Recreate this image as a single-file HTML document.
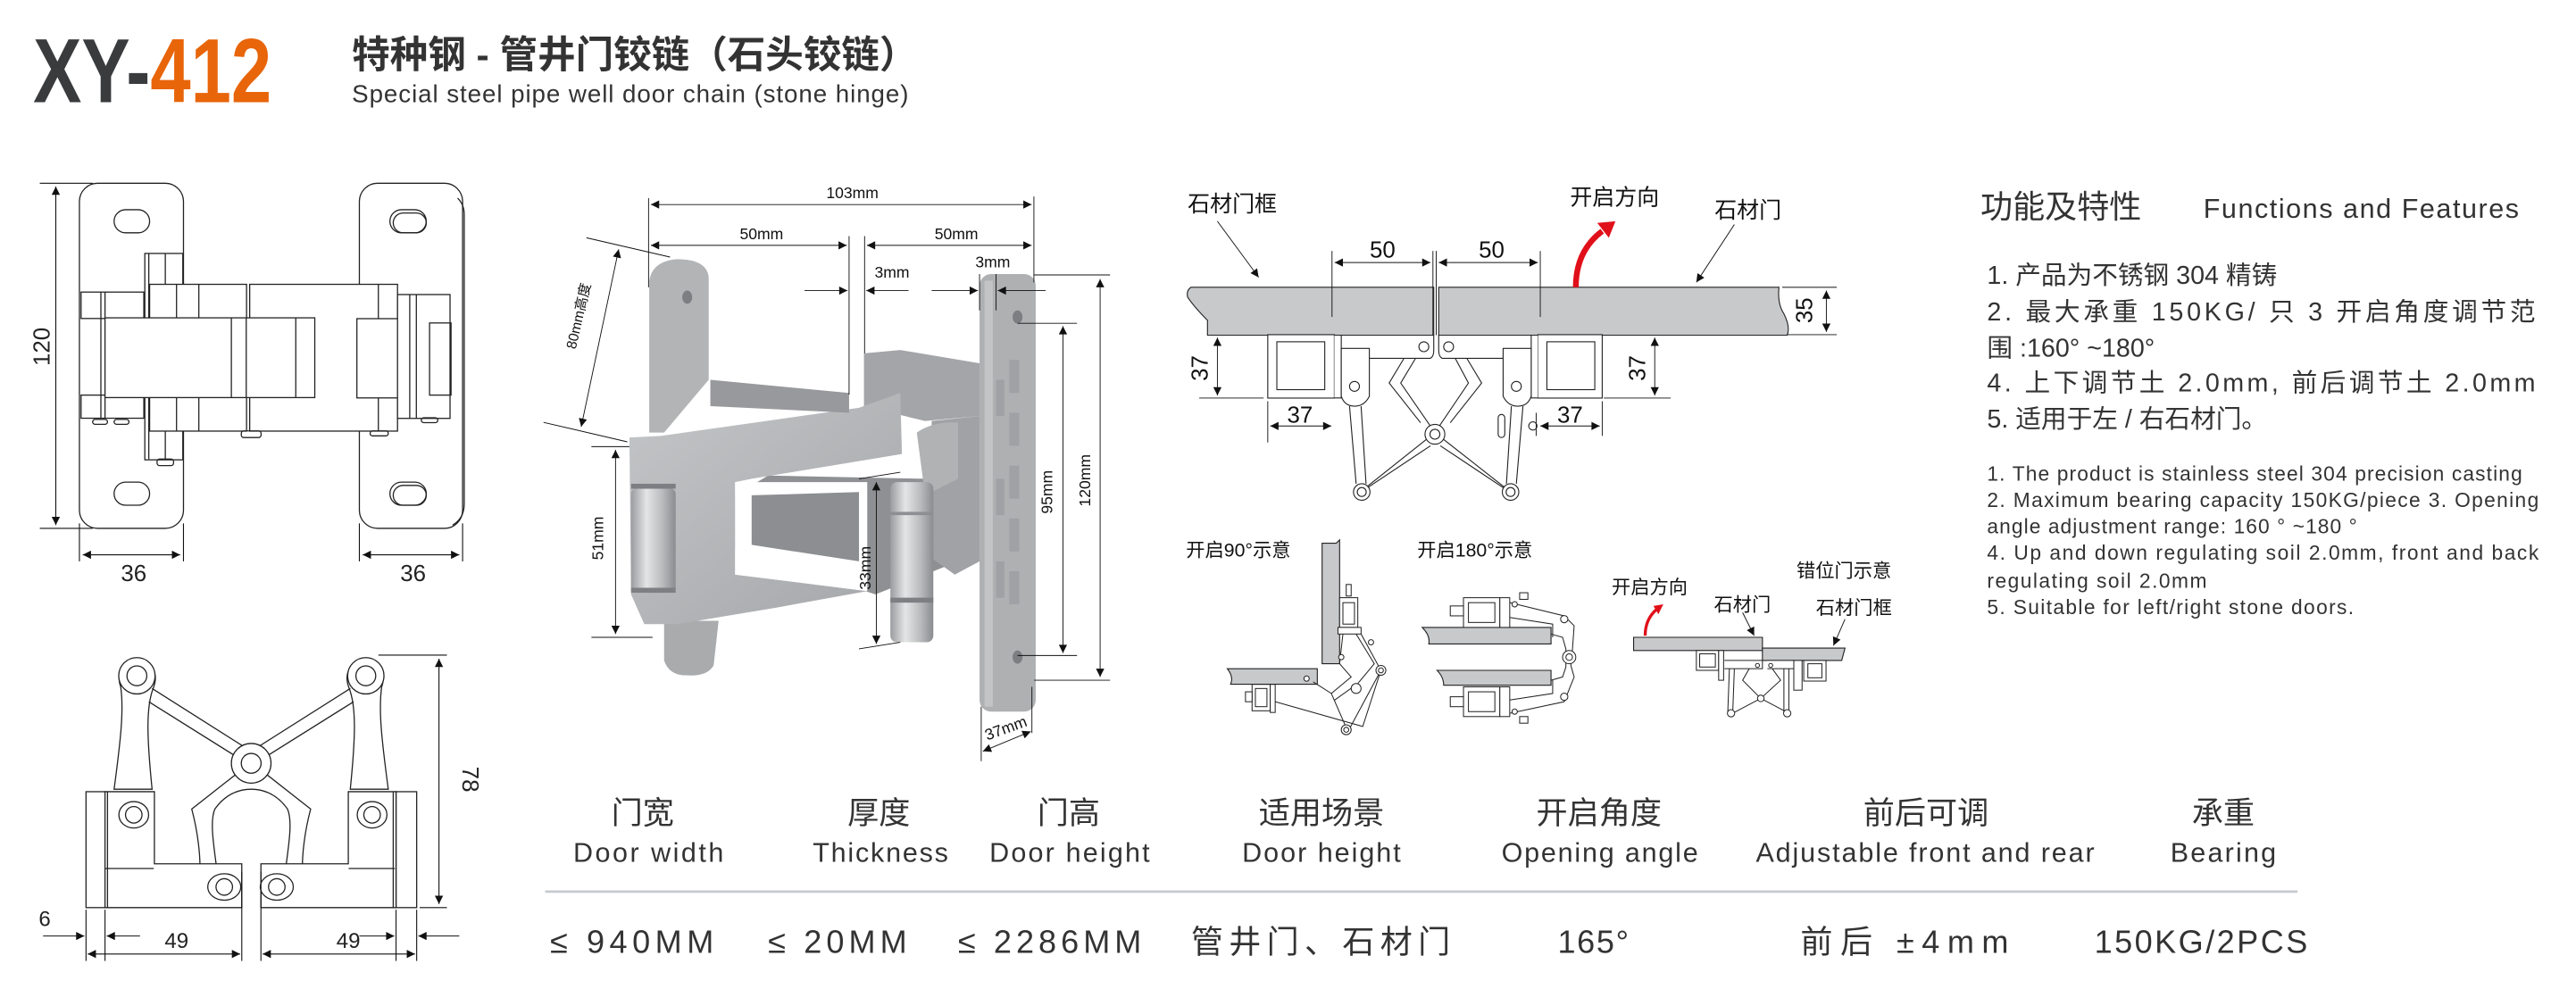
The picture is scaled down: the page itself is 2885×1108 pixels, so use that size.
<!DOCTYPE html>
<html><head><meta charset="utf-8">
<style>
html,body{margin:0;padding:0;background:#fff;}
svg{display:block;}
.cn{font-family:"Liberation Sans","Noto Sans CJK SC",sans-serif;}
.en{font-family:"Liberation Sans","Noto Sans CJK SC",sans-serif;}
</style></head>
<body>
<svg width="2885" height="1108" viewBox="0 0 1559.5 599" xmlns="http://www.w3.org/2000/svg">
<defs>
<marker id="a" viewBox="0 0 10 10" refX="10" refY="5" markerWidth="7" markerHeight="5" orient="auto-start-reverse" markerUnits="userSpaceOnUse"><path d="M0,0L10,5L0,10z" fill="#111"/></marker>
<linearGradient id="cyl" x1="0" x2="1"><stop offset="0" stop-color="#9a9c9f"/><stop offset="0.35" stop-color="#e4e5e6"/><stop offset="0.7" stop-color="#b9bbbd"/><stop offset="1" stop-color="#8a8c8f"/></linearGradient>
<linearGradient id="met" x1="0" y1="0" x2="1" y2="1"><stop offset="0" stop-color="#c3c5c7"/><stop offset="1" stop-color="#a4a6a9"/></linearGradient>
</defs>

<!-- Header -->
<text x="20" y="62" font-family="Liberation Sans,sans-serif" font-weight="bold" font-size="55" fill="#3a3b3d" transform="translate(20 0) scale(0.8 1) translate(-20 0)">XY-<tspan fill="#e8650a">412</tspan></text>
<text x="213" y="41" class="cn" font-weight="bold" font-size="23" fill="#333">特种钢 - 管井门铰链（石头铰链）</text>
<text x="213" y="62" class="en" font-size="15" fill="#333" textLength="337">Special steel pipe well door chain (stone hinge)</text>

<!-- ===== Top-left plan drawing ===== -->
<g fill="none" stroke="#222" stroke-width="0.7">
  <rect x="48" y="111" width="63" height="209" rx="11"/>
  <rect x="69" y="127" width="21.5" height="14" rx="7"/>
  <rect x="69" y="292" width="21.5" height="14" rx="7"/>
  <rect x="217.5" y="111" width="62.5" height="209" rx="11"/>
  <path d="M277 120 Q281 124 281 130 L281 305 Q281 314 274 318"/>
  <rect x="236" y="127" width="22" height="14" rx="7"/>
  <rect x="238" y="129" width="20" height="12" rx="6"/>
  <rect x="236" y="292" width="22" height="14" rx="7"/>
  <rect x="238" y="294" width="20" height="12" rx="6"/>
  <rect x="87.6" y="153.5" width="23" height="125" fill="#fff"/>
  <line x1="90" y1="153.5" x2="90" y2="278"/>
  <line x1="100" y1="153.5" x2="100" y2="278"/>
  <rect x="49" y="176.9" width="38" height="16" fill="#fff"/>
  <rect x="49" y="239.3" width="38" height="14" fill="#fff"/>
  <line x1="61" y1="176.9" x2="61" y2="253"/>
  <line x1="63.5" y1="176.9" x2="63.5" y2="253"/>
  <rect x="90.5" y="172.2" width="58.7" height="88.9" fill="#fff"/>
  <rect x="151.1" y="172.2" width="89.5" height="88.9" fill="#fff"/>
  <line x1="106.8" y1="172.2" x2="106.8" y2="261"/>
  <line x1="120.3" y1="172.2" x2="120.3" y2="261"/>
  <line x1="229" y1="172.2" x2="229" y2="261"/>
  <rect x="63.5" y="192.5" width="127" height="48.3" fill="#fff"/>
  <line x1="140" y1="192.5" x2="140" y2="240.8"/>
  <line x1="149" y1="192.5" x2="149" y2="240.8"/>
  <line x1="179" y1="192.5" x2="179" y2="240.8"/>
  <rect x="216" y="193" width="25" height="48" fill="#fff"/>
  <rect x="240.6" y="178.4" width="31.8" height="75" fill="#fff"/>
  <line x1="248" y1="178.4" x2="248" y2="253.4"/>
  <line x1="252" y1="178.4" x2="252" y2="253.4"/>
  <rect x="260" y="195.6" width="13" height="43.7"/>
  <rect x="56" y="254" width="9" height="3" rx="1.5"/>
  <rect x="69" y="254" width="9" height="3" rx="1.5"/>
  <rect x="95" y="278" width="10" height="4" rx="1.5"/>
  <rect x="146" y="261" width="12" height="4" rx="1.5"/>
  <rect x="224" y="261" width="11" height="3" rx="1.5"/>
  <rect x="255" y="253" width="10" height="3" rx="1.5"/>
</g>
<g stroke="#111" stroke-width="0.6" fill="none">
  <line x1="24" y1="111" x2="56" y2="111"/><line x1="24" y1="320" x2="56" y2="320"/>
  <line x1="33.7" y1="113" x2="33.7" y2="318" marker-start="url(#a)" marker-end="url(#a)"/>
  <line x1="48" y1="317" x2="48" y2="340"/><line x1="111" y1="317" x2="111" y2="340"/>
  <line x1="50" y1="336" x2="109" y2="336" marker-start="url(#a)" marker-end="url(#a)"/>
  <line x1="217.5" y1="317" x2="217.5" y2="340"/><line x1="280" y1="317" x2="280" y2="340"/>
  <line x1="219.5" y1="336" x2="278" y2="336" marker-start="url(#a)" marker-end="url(#a)"/>
</g>
<text x="30" y="210" class="en" font-size="14" fill="#222" text-anchor="middle" transform="rotate(-90 30 210)">120</text>
<text x="80.9" y="352" class="en" font-size="14" fill="#222" text-anchor="middle">36</text>
<text x="250" y="352" class="en" font-size="14" fill="#222" text-anchor="middle">36</text>

<!-- ===== Bottom-left linkage ===== -->
<g fill="#fff" stroke="#222" stroke-width="0.7">
  <path d="M83 401 C92 400 96 408 93 416 C88 428 89 448 92 478 L69 478 C73 448 75 430 73 416 C70 408 75 402 83 401Z"/>
  <path d="M221 401 C212 400 208 408 211 416 C216 428 215 448 212 478 L235 478 C231 448 229 430 231 416 C234 408 229 402 221 401Z"/>
  <path d="M92 417 L152 455 L212 417" fill="none"/>
  <path d="M90 425 L149 462 M214 425 L155 462" fill="none"/>
  <path d="M116 490 C120 505 121 518 121 525 L131 525 C129 510 127 497 130 490 C137 480 146 478 152 478 C158 478 167 480 174 490 C177 497 175 510 173 525 L183 525 C183 518 184 505 188 490 L160 468 L144 468Z"/>
  <rect x="52" y="479.5" width="11.5" height="70.2"/>
  <path d="M63.5 479.5 L93.4 479.5 L93.4 523.2 L146.3 523.2 L146.3 549.7 L63.5 549.7Z"/>
  <line x1="65" y1="479.5" x2="65" y2="549.7"/>
  <line x1="63.5" y1="526" x2="93" y2="526"/>
  <rect x="239.7" y="479.5" width="12.5" height="70.2"/>
  <path d="M239.7 479.5 L210.8 479.5 L210.8 523.2 L157.9 523.2 L157.9 549.7 L239.7 549.7Z"/>
  <line x1="238" y1="479.5" x2="238" y2="549.7"/>
  <line x1="211" y1="526" x2="239" y2="526"/>
  <circle cx="82.8" cy="409.3" r="11"/><circle cx="82.8" cy="409.3" r="6"/>
  <circle cx="221.4" cy="409.3" r="11"/><circle cx="221.4" cy="409.3" r="6"/>
  <circle cx="152" cy="462.3" r="12"/><circle cx="152" cy="462.3" r="6"/>
  <ellipse cx="80.9" cy="493.5" rx="9" ry="8"/><circle cx="80.9" cy="493.5" r="5"/>
  <ellipse cx="225.2" cy="493.5" rx="9" ry="8"/><circle cx="225.2" cy="493.5" r="5"/>
  <ellipse cx="135.7" cy="537.2" rx="10" ry="8"/><circle cx="135.7" cy="537.2" r="5"/>
  <ellipse cx="167.5" cy="537.2" rx="10" ry="8"/><circle cx="167.5" cy="537.2" r="5"/>
</g>
<g stroke="#111" stroke-width="0.6" fill="none">
  <line x1="229" y1="396.8" x2="270.5" y2="396.8"/><line x1="254" y1="549.7" x2="270.5" y2="549.7"/>
  <line x1="265.7" y1="399" x2="265.7" y2="547.5" marker-start="url(#a)" marker-end="url(#a)"/>
  <line x1="52" y1="551" x2="52" y2="582"/><line x1="63.5" y1="551" x2="63.5" y2="582"/>
  <line x1="146.3" y1="528" x2="146.3" y2="582"/><line x1="157.9" y1="528" x2="157.9" y2="582"/>
  <line x1="239.7" y1="551" x2="239.7" y2="582"/><line x1="252.2" y1="551" x2="252.2" y2="582"/>
  <line x1="26" y1="566.9" x2="51" y2="566.9" marker-end="url(#a)"/>
  <line x1="84.7" y1="566.9" x2="64.5" y2="566.9" marker-end="url(#a)"/>
  <line x1="217.5" y1="566.9" x2="238.7" y2="566.9" marker-end="url(#a)"/>
  <line x1="278" y1="566.9" x2="253.2" y2="566.9" marker-end="url(#a)"/>
  <line x1="53" y1="577.8" x2="145.3" y2="577.8" marker-start="url(#a)" marker-end="url(#a)"/>
  <line x1="158.9" y1="577.8" x2="251.2" y2="577.8" marker-start="url(#a)" marker-end="url(#a)"/>
</g>
<text x="280" y="472" class="en" font-size="14" fill="#222" text-anchor="middle" transform="rotate(90 280 472)">78</text>
<text x="27" y="561" class="en" font-size="13" fill="#222" text-anchor="middle">6</text>
<text x="106.8" y="574" class="en" font-size="13" fill="#222" text-anchor="middle">49</text>
<text x="210.8" y="574" class="en" font-size="13" fill="#222" text-anchor="middle">49</text>

<!-- ===== Hinge photo ===== -->
<g stroke="none">
  <path d="M393 170 Q395 158 410 157 Q428 157 429 168 L429 230 L402 262 L393 262Z" fill="#b2b4b6"/>
  <path d="M402 376 L435 376 L432 403 Q428 410 415 409 Q405 409 402 400Z" fill="#a9abad"/>
  <path d="M523 214 L545 212 L593 220 L593 252 L560 255 L523 246Z" fill="#a3a5a8"/>
  <rect x="593" y="166" width="34" height="265" rx="7" fill="#aeb0b2"/>
  <rect x="596" y="170" width="5" height="258" fill="#c2c4c6"/>
  <g fill="#9fa1a4"><rect x="611" y="218" width="6" height="20"/><rect x="611" y="250" width="6" height="20"/><rect x="611" y="282" width="6" height="20"/><rect x="611" y="314" width="6" height="20"/><rect x="611" y="346" width="6" height="20"/><rect x="603" y="230" width="5" height="22"/><rect x="603" y="290" width="5" height="22"/><rect x="603" y="340" width="5" height="22"/></g>
  <ellipse cx="616" cy="192" rx="3" ry="4" fill="#7c7e81"/><ellipse cx="616" cy="398" rx="3" ry="4" fill="#7c7e81"/>
  <path d="M465 288 L560 290 L580 300 L580 340 L530 360 L445 333 L445 300Z" fill="#8e9093"/>
  <path d="M564 255 L593 252 L593 340 L578 348 L564 338Z" fill="#a0a2a5"/>
  <path d="M555 262 Q565 255 580 256 L580 290 L560 300Z" fill="#b0b2b4"/>
  <path d="M381 265 L400 264 L520 247 L545 238 L546 275 L455 290 L445 292 L445 348 L525 358 L470 368 L410 378 L390 378 L382 360Z" fill="url(#met)"/>
  <path d="M430 230 L514 238 L514 250 L430 246Z" fill="#98999c"/>
  <path d="M445 292 L525 292 L525 358 L445 348Z" fill="#fff"/>
  <path d="M455 300 L520 298 L520 340 L455 330Z" fill="#8c8e91"/>
  <rect x="382" y="296" width="27" height="63" rx="3" fill="url(#cyl)"/>
  <rect x="382" y="293" width="27" height="3" fill="#7d7f82"/><rect x="382" y="356" width="27" height="3" fill="#7d7f82"/>
  <rect x="539" y="292" width="26" height="97" rx="4" fill="url(#cyl)"/>
  <rect x="539" y="362" width="26" height="3" fill="#7d7f82"/><rect x="539" y="310" width="26" height="2" fill="#8d8f92"/>
  <ellipse cx="416" cy="180" rx="3" ry="4" fill="#7c7e81"/>
</g>
<g stroke="#111" stroke-width="0.5" fill="none">
  <line x1="392.6" y1="120" x2="392.6" y2="174"/><line x1="625.9" y1="119" x2="625.9" y2="171"/>
  <line x1="394" y1="123.9" x2="624.5" y2="123.9" marker-start="url(#a)" marker-end="url(#a)"/>
  <line x1="514" y1="143" x2="514" y2="239"/><line x1="523.4" y1="143" x2="523.4" y2="214"/>
  <line x1="394" y1="148.6" x2="512.6" y2="148.6" marker-start="url(#a)" marker-end="url(#a)"/>
  <line x1="524.8" y1="148.6" x2="624.5" y2="148.6" marker-start="url(#a)" marker-end="url(#a)"/>
  <line x1="487" y1="176" x2="513" y2="176" marker-end="url(#a)"/>
  <line x1="550" y1="176" x2="524.4" y2="176" marker-end="url(#a)"/>
  <line x1="564" y1="176" x2="592" y2="176" marker-end="url(#a)"/>
  <line x1="633" y1="176" x2="604" y2="176" marker-end="url(#a)"/>
  <line x1="593" y1="166" x2="593" y2="188"/><line x1="603" y1="166" x2="603" y2="188"/>
  <line x1="626" y1="166.5" x2="672" y2="166.5"/><line x1="626" y1="412" x2="672" y2="412"/>
  <line x1="666" y1="169" x2="666" y2="410" marker-start="url(#a)" marker-end="url(#a)"/>
  <line x1="616" y1="195.8" x2="652" y2="195.8"/><line x1="616" y1="397" x2="652" y2="397"/>
  <line x1="643.5" y1="197.5" x2="643.5" y2="395.5" marker-start="url(#a)" marker-end="url(#a)"/>
  <line x1="358" y1="270.5" x2="381" y2="270.5"/><line x1="358" y1="386" x2="395" y2="386"/>
  <line x1="372.6" y1="272.5" x2="372.6" y2="384" marker-start="url(#a)" marker-end="url(#a)"/>
  <line x1="520" y1="290" x2="545" y2="286"/><line x1="520" y1="393" x2="545" y2="389"/>
  <line x1="530.5" y1="292" x2="530.5" y2="390" marker-start="url(#a)" marker-end="url(#a)"/>
  <line x1="355" y1="144" x2="405.6" y2="155.7"/><line x1="329" y1="255.8" x2="379.7" y2="267.6"/>
  <line x1="374.5" y1="151" x2="351.8" y2="258.5" marker-start="url(#a)" marker-end="url(#a)"/>
  <line x1="594" y1="428" x2="594" y2="461"/><line x1="624.7" y1="416" x2="624.7" y2="444"/>
  <line x1="595" y1="455" x2="624" y2="443" marker-start="url(#a)" marker-end="url(#a)"/>
</g>
<g class="en" font-size="9.5" fill="#111">
  <text x="516" y="120" text-anchor="middle">103mm</text>
  <text x="461" y="145" text-anchor="middle">50mm</text>
  <text x="579" y="145" text-anchor="middle">50mm</text>
  <text x="540" y="168" text-anchor="middle">3mm</text>
  <text x="601" y="162" text-anchor="middle">3mm</text>
  <text x="660" y="291" text-anchor="middle" transform="rotate(-90 660 291)">120mm</text>
  <text x="637" y="298" text-anchor="middle" transform="rotate(-90 637 298)">95mm</text>
  <text x="365" y="326" text-anchor="middle" transform="rotate(-90 365 326)">51mm</text>
  <text x="527" y="344" text-anchor="middle" transform="rotate(-90 527 344)">33mm</text>
  <text x="610" y="444" text-anchor="middle" transform="rotate(-20 610 444)">37mm</text>
  <text x="353" y="192" text-anchor="middle" class="cn" font-size="8.5" transform="rotate(-77 353 192)">80mm高度</text>
</g>

<!-- ===== Top-right section drawing ===== -->
<path d="M721 174 L868 174 L868 203 L731 203 L731 194 Q723 186 719 180 Q718 176 721 174Z" fill="#c8c9cb" stroke="#222" stroke-width="0.6"/>
<path d="M871 174 L1077 174 Q1076 184 1080 190 Q1084 198 1082 203 L871 203Z" fill="#c8c9cb" stroke="#222" stroke-width="0.6"/>
<g fill="#fff" stroke="#222" stroke-width="0.6">
  <rect x="767.5" y="202.7" width="40.3" height="38.4"/><rect x="773" y="207" width="29" height="29"/>
  <rect x="931" y="202.7" width="39" height="38.4"/><rect x="936.5" y="207" width="29" height="29"/>
  <path d="M807.8 203 L812 203 L812 241 L807.8 241"/><path d="M931 203 L927 203 L927 241 L931 241"/>
  <path d="M812 211 L829 211 L829 240 Q826 246 820 246 Q814 246 812 240Z"/>
  <path d="M927 211 L910 211 L910 240 Q913 246 919 246 Q925 246 927 240Z"/>
  <path d="M829 217 L866 217 Q868 216 868 212 L868 203 M910 217 L873 217 Q871 216 871 212 L871 203" fill="none"/>
  <circle cx="862" cy="210" r="3"/><circle cx="877" cy="210" r="3"/>
  <circle cx="820" cy="234" r="3"/><circle cx="918" cy="234" r="3"/>
  <path d="M817 246 L821 293 M824 246 L827 293 M922 246 L918 293 M915 246 L912 293" fill="none"/>
  <path d="M850 217 L841 232 L860 256 M888 217 L897 232 L878 256 M857 217 L848 232 L868.7 262 L889 232 L881 217" fill="none"/>
  <path d="M868.7 262 L826 296 M868.7 262 L912 296 M866 270 L824 298 M872 270 L914 298" fill="none"/>
  <circle cx="868.7" cy="263" r="6"/><circle cx="868.7" cy="263" r="3"/>
  <circle cx="824.4" cy="298" r="5"/><circle cx="824.4" cy="298" r="2.7"/>
  <circle cx="914.5" cy="298" r="5"/><circle cx="914.5" cy="298" r="2.7"/>
  <rect x="907" y="251" width="4" height="14" rx="2"/><circle cx="928" cy="258" r="2.5"/>
</g>
<g stroke="#111" stroke-width="0.5" fill="none">
  <line x1="806.4" y1="152" x2="806.4" y2="192"/><line x1="932.5" y1="152" x2="932.5" y2="192"/>
  <line x1="867.5" y1="152" x2="867.5" y2="203"/><line x1="869.5" y1="152" x2="869.5" y2="203"/>
  <line x1="808" y1="159" x2="866" y2="159" marker-start="url(#a)" marker-end="url(#a)"/>
  <line x1="871" y1="159" x2="931" y2="159" marker-start="url(#a)" marker-end="url(#a)"/>
  <line x1="1079" y1="174" x2="1112" y2="174"/><line x1="1082" y1="202.7" x2="1112" y2="202.7"/>
  <line x1="1105.7" y1="176" x2="1105.7" y2="201" marker-start="url(#a)" marker-end="url(#a)"/>
  <line x1="726" y1="241.1" x2="765" y2="241.1"/><line x1="971" y1="241.1" x2="1011.5" y2="241.1"/>
  <line x1="737" y1="204.5" x2="737" y2="239.5" marker-start="url(#a)" marker-end="url(#a)"/>
  <line x1="1001.8" y1="204.5" x2="1001.8" y2="239.5" marker-start="url(#a)" marker-end="url(#a)"/>
  <line x1="767.5" y1="243" x2="767.5" y2="268"/><line x1="970" y1="243" x2="970" y2="264"/><line x1="930" y1="250" x2="930" y2="264"/>
  <line x1="769" y1="258" x2="806" y2="258" marker-start="url(#a)" marker-end="url(#a)"/>
  <line x1="932.5" y1="258" x2="968.5" y2="258" marker-start="url(#a)" marker-end="url(#a)"/>
  <line x1="737" y1="134" x2="762" y2="168" marker-end="url(#a)"/>
  <line x1="1050" y1="136" x2="1027" y2="171" marker-end="url(#a)"/>
</g>
<path d="M954 174 Q954 152 970 140" stroke="#e0101a" stroke-width="3.5" fill="none"/>
<path d="M967 135 L978 134 L974 144Z" fill="#e0101a"/>
<g class="cn" font-size="13.5" fill="#111">
  <text x="719" y="128">石材门框</text>
  <text x="950.5" y="124">开启方向</text>
  <text x="1038" y="132">石材门</text>
</g>
<g class="en" font-size="14" fill="#111">
  <text x="837" y="156" text-anchor="middle">50</text>
  <text x="903" y="156" text-anchor="middle">50</text>
  <text x="1097" y="188" text-anchor="middle" transform="rotate(-90 1097 188)">35</text>
  <text x="731" y="223" text-anchor="middle" transform="rotate(-90 731 223)">37</text>
  <text x="996" y="223" text-anchor="middle" transform="rotate(-90 996 223)">37</text>
  <text x="787" y="256" text-anchor="middle">37</text>
  <text x="950.5" y="256" text-anchor="middle">37</text>
</g>

<!-- ===== Bottom-middle small diagrams ===== -->
<g fill="#c8c9cb" stroke="#222" stroke-width="0.6">
  <path d="M800.4 329 L809 329 Q811 327 811 327 L811 402 L800.4 402Z"/>
  <path d="M743 405 L797.5 405 L797.5 414.4 L745 414.4 Q747 410 743 405Z"/>
  <path d="M861 380 L939 380 L939 390 L865 390 Q866 385 861 380Z"/>
  <path d="M870 406 L939 406 L939 415 L874 415 Q874 410 870 406Z"/>
  <path d="M989 386 L1067 386 L1067 394 L989 394Z"/>
  <path d="M1067 392.5 L1117 392.5 L1115 400 L1067 400Z"/>
</g>
<g fill="#fff" stroke="#222" stroke-width="0.55">
  <rect x="811" y="362" width="11" height="18"/><rect x="813" y="365" width="7" height="13"/>
  <rect x="815" y="354" width="3" height="7"/><rect x="810" y="380" width="14" height="4"/>
  <rect x="758" y="414.5" width="11" height="16"/><rect x="760" y="417" width="7" height="11"/>
  <rect x="754" y="419" width="4" height="6"/><rect x="769" y="414.5" width="3" height="17"/>
  <path d="M813 384 L811 402 L818 410 L806 420 L795 413 M821 384 L832 402 L822 414 L808 424 M824 384 L836 406 L825 440 L772 425 M836 406 L815 445 M806 420 L816 443" fill="none"/>
  <circle cx="836" cy="406" r="3"/><circle cx="836" cy="406" r="1.5"/>
  <circle cx="821" cy="417" r="3"/><circle cx="815" cy="442" r="3"/><circle cx="815" cy="442" r="1.5"/>
  <circle cx="812" cy="398" r="1.6"/><circle cx="791" cy="411" r="1.6"/><circle cx="830" cy="389" r="1.6"/>
  <rect x="886" y="362" width="22" height="18"/><rect x="889" y="365" width="16" height="12"/>
  <rect x="878" y="367" width="8" height="6"/><rect x="908" y="362" width="6" height="18"/>
  <rect x="886" y="416" width="22" height="18"/><rect x="889" y="419" width="16" height="12"/>
  <rect x="878" y="422" width="8" height="6"/><rect x="908" y="416" width="6" height="18"/>
  <path d="M914 365 L947 373 L953 379 L952 393 L951 403 L953 410 L947 425 L914 432 M914 374 L940 378 L940 386 M914 424 L940 420 L940 412 M939 384 L946 386 L948 393 L948 404 L946 410 L939 412" fill="none"/>
  <circle cx="950" cy="398" r="4"/><circle cx="950" cy="398" r="2"/>
  <circle cx="947" cy="375" r="2.2"/><circle cx="947" cy="422" r="2.2"/>
  <circle cx="917" cy="366" r="1.6"/><circle cx="917" cy="431" r="1.6"/>
  <rect x="920" y="359" width="5" height="4"/><rect x="920" y="434" width="5" height="4"/>
  <rect x="1027" y="394" width="13.5" height="12"/><rect x="1029" y="396" width="9.5" height="8"/>
  <rect x="1092" y="400" width="13.5" height="12.5"/><rect x="1094.5" y="402" width="8.5" height="8.5"/>
  <rect x="1040.5" y="394" width="3" height="18"/><rect x="1086" y="400" width="5" height="18"/>
  <path d="M1044 400 L1067 400 L1067 405 L1044 405 M1070 400 L1086 400 L1086 405 L1070 405" />
  <path d="M1047 405 L1046 432 M1050 405 L1049 432 M1083 405 L1083 432 M1080 405 L1080 432 M1059 405 L1055 412 L1066 423 L1078 412 L1073 405 M1066 423 L1049 432 M1066 423 L1083 432" fill="none"/>
  <circle cx="1048" cy="432" r="2.2"/><circle cx="1082" cy="432" r="2.2"/><circle cx="1066" cy="423" r="2"/>
  <circle cx="1064" cy="403" r="1.2"/><circle cx="1072" cy="403" r="1.2"/>
</g>
<g stroke="#111" stroke-width="0.5" fill="none">
  <line x1="1055" y1="371" x2="1062" y2="385" marker-end="url(#a)"/>
  <line x1="1117" y1="375" x2="1110" y2="391" marker-end="url(#a)"/>
</g>
<path d="M996 385 Q996 375 1003 369" stroke="#e0101a" stroke-width="1.8" fill="none"/>
<path d="M1001 367 L1007 366 L1004 372Z" fill="#e0101a"/>
<g class="cn" font-size="11.5" fill="#111">
  <text x="718" y="337">开启90°示意</text>
  <text x="858" y="337">开启180°示意</text>
  <text x="1087.6" y="349.5">错位门示意</text>
  <text x="975.7" y="359.5">开启方向</text>
  <text x="1037.6" y="370">石材门</text>
  <text x="1099.4" y="372">石材门框</text>
</g>

<!-- ===== Functions and Features ===== -->
<text x="1199" y="132" class="cn" font-size="19.5" fill="#333">功能及特性</text>
<text x="1334" y="132" class="en" font-size="16.5" fill="#333" textLength="191">Functions and Features</text>
<g class="cn" font-size="15.5" fill="#333">
  <text x="1203" y="172">1. 产品为不锈钢 304 精铸</text>
  <text x="1203" y="194" textLength="332">2. 最大承重 150KG/ 只 3 开启角度调节范</text>
  <text x="1203" y="216">围 :160° ~180°</text>
  <text x="1203" y="237" textLength="332">4. 上下调节土 2.0mm, 前后调节土 2.0mm</text>
  <text x="1203" y="259">5. 适用于左 / 右石材门。</text>
</g>
<g class="en" font-size="12.3" fill="#333">
  <text x="1203" y="291" textLength="324">1. The product is stainless steel 304 precision casting</text>
  <text x="1203" y="307" textLength="334">2. Maximum bearing capacity 150KG/piece 3. Opening</text>
  <text x="1203" y="323" textLength="224">angle adjustment range: 160 ° ~180 °</text>
  <text x="1203" y="339" textLength="334">4. Up and down regulating soil 2.0mm, front and back</text>
  <text x="1203" y="356" textLength="133">regulating soil 2.0mm</text>
  <text x="1203" y="372" textLength="222">5. Suitable for left/right stone doors.</text>
</g>

<!-- ===== Bottom table ===== -->
<g class="cn" font-size="19" fill="#333" text-anchor="middle">
  <text x="389" y="499">门宽</text><text x="532" y="499">厚度</text><text x="647" y="499">门高</text>
  <text x="800" y="499">适用场景</text><text x="968" y="499">开启角度</text><text x="1166" y="499">前后可调</text><text x="1346" y="499">承重</text>
</g>
<g class="en" font-size="16.5" fill="#333">
  <text x="347" y="522" textLength="91">Door width</text><text x="492" y="522" textLength="82">Thickness</text><text x="599" y="522" textLength="97">Door height</text>
  <text x="752" y="522" textLength="96">Door height</text><text x="909" y="522" textLength="119">Opening angle</text><text x="1063" y="522" textLength="205">Adjustable front and rear</text><text x="1314" y="522" textLength="64">Bearing</text>
</g>
<line x1="330" y1="540" x2="1391" y2="540" stroke="#c5cad0" stroke-width="1.5"/>
<g class="cn" font-size="19.5" fill="#333">
  <text x="333" y="577" textLength="99">≤ 940MM</text><text x="465" y="577" textLength="84">≤ 20MM</text><text x="580" y="577" textLength="111">≤ 2286MM</text>
  <text x="721" y="577" textLength="157">管井门、石材门</text><text x="943" y="577" textLength="43">165°</text><text x="1090" y="577" textLength="126">前后 ±4mm</text><text x="1268" y="577" textLength="129">150KG/2PCS</text>
</g>
</svg>
</body></html>
